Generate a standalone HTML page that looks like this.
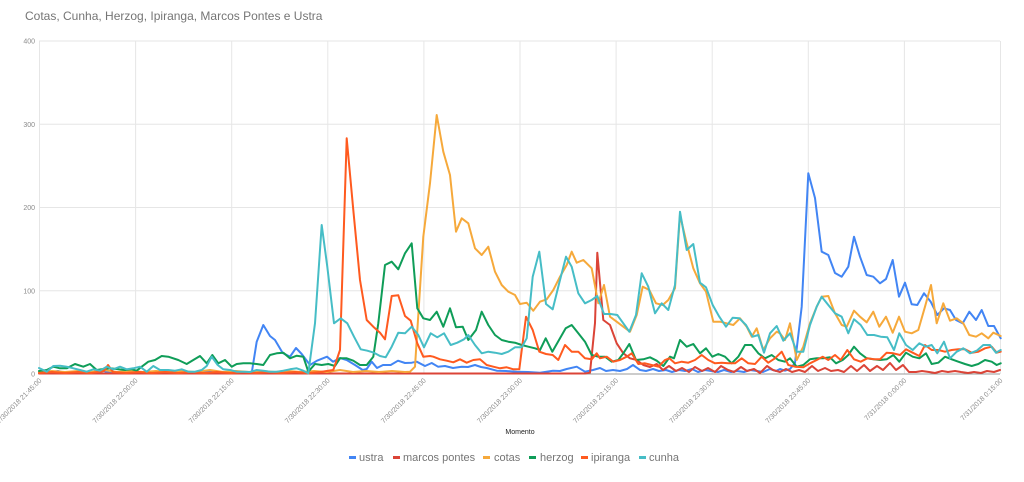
<!DOCTYPE html>
<html><head><meta charset="utf-8"><style>
html,body{margin:0;padding:0;background:#fff;}
svg{display:block;font-family:"Liberation Sans",sans-serif;}
</style></head><body>
<svg width="1024" height="482" viewBox="0 0 1024 482" xmlns="http://www.w3.org/2000/svg">
<rect width="1024" height="482" fill="#fff"/>
<text x="25" y="20" font-size="12" fill="#757575">Cotas, Cunha, Herzog, Ipiranga, Marcos Pontes e Ustra</text>
<g stroke="#e6e6e6" stroke-width="1">
<line x1="39" y1="41" x2="1000" y2="41"/>
<line x1="39" y1="124.3" x2="1000" y2="124.3"/>
<line x1="39" y1="207.5" x2="1000" y2="207.5"/>
<line x1="39" y1="290.8" x2="1000" y2="290.8"/>
<line x1="39.5" y1="41" x2="39.5" y2="374"/>
<line x1="135.6" y1="41" x2="135.6" y2="374"/>
<line x1="231.7" y1="41" x2="231.7" y2="374"/>
<line x1="327.8" y1="41" x2="327.8" y2="374"/>
<line x1="423.9" y1="41" x2="423.9" y2="374"/>
<line x1="520" y1="41" x2="520" y2="374"/>
<line x1="616.1" y1="41" x2="616.1" y2="374"/>
<line x1="712.2" y1="41" x2="712.2" y2="374"/>
<line x1="808.3" y1="41" x2="808.3" y2="374"/>
<line x1="904.4" y1="41" x2="904.4" y2="374"/>
<line x1="1000.5" y1="41" x2="1000.5" y2="374"/>
</g>
<line x1="39" y1="374" x2="1000" y2="374" stroke="#999" stroke-width="1"/>
<g font-size="7" fill="#8a8a8a" text-anchor="end">
<text x="35" y="43.5">400</text>
<text x="35" y="126.8">300</text>
<text x="35" y="210">200</text>
<text x="35" y="293.3">100</text>
<text x="35" y="376.5">0</text>
</g>
<g font-size="7" fill="#8a8a8a" text-anchor="end">
<text transform="translate(42,381) rotate(-45)">7/30/2018 21:45:00</text>
<text transform="translate(138.1,381) rotate(-45)">7/30/2018 22:00:00</text>
<text transform="translate(234.2,381) rotate(-45)">7/30/2018 22:15:00</text>
<text transform="translate(330.3,381) rotate(-45)">7/30/2018 22:30:00</text>
<text transform="translate(426.4,381) rotate(-45)">7/30/2018 22:45:00</text>
<text transform="translate(522.5,381) rotate(-45)">7/30/2018 23:00:00</text>
<text transform="translate(618.6,381) rotate(-45)">7/30/2018 23:15:00</text>
<text transform="translate(714.7,381) rotate(-45)">7/30/2018 23:30:00</text>
<text transform="translate(810.8,381) rotate(-45)">7/30/2018 23:45:00</text>
<text transform="translate(906.9,381) rotate(-45)">7/31/2018 0:00:00</text>
<text transform="translate(1003,381) rotate(-45)">7/31/2018 0:15:00</text>
</g>
<text x="520" y="434" font-size="7" fill="#222" text-anchor="middle">Momento</text>
<g fill="none" stroke-width="2" stroke-linejoin="round" stroke-linecap="round">
<polyline stroke="#4285f4" points="39,372 45,373 52,372 58,371 65,373 71,372 78,373 84,372 91,373 97,372 104,371 110,373 116,372 123,373 129,372 136,373 142,372 148,373 155,372 161,373 168,372 174,373 180,372 187,373 193,372 200,373 206,372 213,371 219,373 225,372 232,373 238,372 245,373 251.7,373 256.7,341.7 263.3,325 270,336 275,340 282.7,353 290,356.7 296,348 301.7,354 310,365 317,360.7 327,356.7 333,361.7 340,358 346.7,360 355,365 362.7,370 366.7,369 371.7,361.7 377,368 383,365 390.7,365 398,360.7 405,363 411.7,362.7 416.7,361.7 425,366 431.7,363 438,366.7 445,366 453,368 461.7,366.7 468,367 475,365 481,367 486.7,368 496.7,370.7 506,371 516.7,371.7 528,372 540,372.7 553,370.7 560,371 566.7,369 576.7,366.7 585,371.7 593,370 600,368 606,371 613,370 620,371 627,369 633,365 640,370 646,371 653,369 659,371 666,370 672,372 679,370 685,371 692,369 698,372 705,370 711,371 718,372 724,370 731,372 737,371 744,372 750,370 757,371 763,372 770,369 776,371 780,369 785,370.7 790,369 795,363 801.7,306.7 808.3,173.3 815,198 821.7,251.7 828.3,255 835,273 841.7,276.7 848.3,266.7 854,236.7 860,256.7 866.7,275 873.3,276.7 880,283.3 886,279 892.7,260 899,296.7 905,282.7 911.7,304.3 917.3,305 924,293.3 930.7,301.7 937.3,315 944,308.3 950,310 956,320 962.7,323.3 969.3,311.7 976,320 981.7,310 988.3,326 994,326 1000.7,338.3"/>
<polyline stroke="#db4437" points="39,373.5 585,373.5 590,372.7 595,323 597.3,252.7 603.3,320 610,325 616.7,343.3 623.3,353.3 630,358.3 636.7,360 643.3,365 650,367 656.7,364 663,370 669,366 676,371 682,368 689,372 695,367 702,371 708,368 715,372 721,366 728,370 734,372 741,367 747,371 754,369 760,373 767,366 773,370 780,372 786,369 792,372 799,370 805,372 812,366 818,371 825,368 831,371 838,370 844,372 851,366 857,371 864,365 870,371 877,366 883,370 890,363 896,370 903,365 909,372 916,372 922,371 929,372 935,373 942,371 948,372 955,371 961,372 968,373 974,372 981,373 987,371 994,372 1000,370"/>
<polyline stroke="#f6a93b" points="39,372 52,371 65,372 78,371 91,372 104,370 117,372 130,371 143,372 156,371 169,372 182,371 195,372 210,370 223,372 236,371 249,372 262,371 275,372 288,371 301,372 314,371 327,372 340,370 353,372 366,371 379,372 392,371 405,372 410,371.7 415,366.7 423.3,236.7 430,183.3 436.7,115 443.3,151.7 450,175 456,231.7 461.7,218.3 468.3,223.3 475,248.3 481.7,255 488.3,246.7 495,271.7 501.7,285 508.3,291.7 515,295 520,304 526.7,302.7 533.3,310.7 540,301.7 546.7,299.3 553.3,290 560,276.7 566.7,265 571.7,251.7 576.7,262.7 583.3,260 591.7,268.3 598.3,303.3 604,285 610,316.7 616.7,321.7 623.3,326.7 630,331.7 636.7,315 642.7,286.7 649.3,290 656,303.3 662.7,305 668.3,300 675,288.3 680,215 686.7,243.3 693.3,268.3 700,283.3 706,291.7 713.3,321.7 720,321.7 726.7,323.3 733.3,325 740,318.3 746.7,326.7 751.7,336.7 756.7,328.3 763.3,350 770,338.3 776.7,331.7 780,333.3 785,340 790,323.3 796.7,360 803.3,346.7 810,323.3 816.7,306.7 821.7,296.7 828.3,296 835,313.3 841.7,325 846.7,326.7 854,310.7 860,316.7 866.7,322.3 873.3,311.7 879.3,326.7 886,316.7 892.7,332.7 899,316.7 905,331.7 911.7,333.3 918.3,330 925,306.7 931,285 936.7,323.3 943.3,303.3 950,320.7 956.7,318.3 963.3,323.3 969.3,335 976,336.7 981.7,333.3 988.3,338.3 993.3,332.7 1000.7,336"/>
<polyline stroke="#0f9d58" points="39,371 46.7,370 53.3,366.7 60,368.3 66.7,368.3 75,364 83.3,366.7 90,364 96.7,370 103.3,369 110,368.3 118.3,369.3 125,370 131.7,369.3 136.7,370.7 141.7,366.7 148.3,361.7 155,360 161.7,356 168.3,356.7 178.3,360 186.7,364 193.3,360 200,356 206.7,363.3 212.3,355 218.3,363.3 225,360 231.7,366.7 236.7,364 243.3,363.3 250,363.3 256.7,364 263.3,365 270,355 276.7,353.3 283.3,352.7 290,358.3 296.7,355.7 303.3,356.7 308.3,371.7 315,364 321.7,365 328.3,364 335,366 340,358.3 346.7,358.3 353.3,360.7 360,365 366.7,365 373.3,356.7 378.3,323.3 385,265 391.7,261.7 398.3,269.3 405,253.3 411.7,243.3 417.3,308.3 423.3,318.3 430,320 436.7,311.7 443.3,326.7 450,308.3 456,327.3 462.7,326.7 468.3,340 476,330 481.7,311.7 488.3,325 495,335 501.7,340 508.3,341.7 515,342.7 521.7,345 528.3,346.7 535,348.3 540,350 545.7,338.3 552.3,351.7 559,340 565.7,328.3 571.7,325 578.3,333.3 585,341.7 591.7,355 598.3,356.7 605,356.7 611.7,361.7 618.3,360 623.3,353.3 629.3,344 636,360 643.3,359.3 650,357.3 656.7,360.7 663.3,366 670,356.7 674,358.3 680,340 686.7,346.7 693.3,344 700,353.3 706,348.3 712.3,356.7 718.3,354 725,356.7 731.7,363.3 738.3,356.7 745,345 751.7,345 758.3,353.3 765,358.3 771.7,355 778.3,360 785,361.7 790,358.3 796.7,366.7 803.3,365 810,359.3 816.7,358.3 823.3,358.3 830,357.3 836,363.3 842.7,360 848.3,355 854,346.7 860,353.3 866.7,358.3 873.3,359.3 880,360 886.7,359.3 893.3,355 899.3,361.7 906,352.7 912.7,356.7 919.3,358.3 926,353.3 931.7,364 938.3,362.7 945,356.7 951.7,359.3 958.3,361.7 965,364 971.7,366 978.3,364 985,360 991.7,361.7 996.7,365 1000.7,363.3"/>
<polyline stroke="#ff5a1f" points="39,373 52,372 65,373 78,372 91,373 104,371 108,365 113,372 126,373 139,372 152,373 165,372 178,373 191,372 204,373 217,372 230,373 243,372 256,373 269,372 282,373 295,372 308,373 320,372 333.3,370 340,350 346.7,138.3 353.3,210 360,280 366.7,320 373.3,326.7 380,332.7 385,339.3 391.7,296 398.3,295.3 405,316 410.7,320.7 417.3,343.3 423.3,356.7 430,356 433.3,356.7 440,359.3 446.7,360.7 453.3,362.3 460,359.3 466.7,362.7 473.3,360 480,359.3 486.7,365 493.3,366.7 500,368.3 506.7,367.3 513.3,369.3 519.3,369.3 526,316.7 532.7,330 539.3,351.7 546,354 552.7,355 558.3,360 565,345 571.7,351.7 578.3,351.7 585,358.3 591.7,359.3 596.7,353.3 600,358.3 606.7,356.7 613.3,361.7 620,360 626.7,356.7 631.7,353.3 638.3,364 645,363.3 651.7,365 658.3,366.7 665,360 669.3,358.3 675,363.3 681.7,361.7 688.3,362.7 695,360 701.7,355 708.3,360 715,363.3 721.7,362.7 728.3,363.3 735,363.3 741.7,358.3 748.3,363.3 755,364 761.7,356.7 768.3,362.7 775,358.3 781.7,351.7 788.3,365 795,366.7 803.3,367.3 810,363.3 816.7,360 822.7,356.7 828.3,360 835,355 840.7,360 847.3,350 854,359.3 860.7,361.7 867.3,358.3 874,359.3 880,359.3 886.7,352.7 893.3,353.3 900,355 906,349.3 912.7,352.7 919.3,356 925,345 931.7,350 938.3,350 945,351.7 951.7,350 958.3,349.3 965,349.3 971.7,352.7 978.3,351.7 985,348.3 991.7,346.7 996.7,352.7 1000.7,351.7"/>
<polyline stroke="#46bdc6" points="39,368 46.7,371.7 53.3,366 60,365.7 66.7,366.7 73.3,368.3 80,370 86.7,371.7 93.3,369.3 100,370.7 106.7,366.7 113.3,369.3 120,366.7 126.7,369.3 133.3,368.3 140,366.7 146.7,371.7 153.3,366 160,370 168.3,370 175,370.7 181.7,369.3 188.3,371.7 195,371.7 201.7,370 206.7,366 211.7,356.7 217.7,365 223.3,369.3 230,370 236.7,371.7 243.3,371.7 250,372 256.7,370 263.3,370.7 270,371.7 276.7,371.7 283.3,370.7 290,369.3 296.7,368.3 303.3,370.7 308.3,373.3 315,323.3 321.7,225 327.3,266.7 334,323.3 340.7,318.3 347.3,323.3 354,336.7 360.7,349.3 367.3,350.7 374,352.7 380,356 385.7,357.3 391.7,346.7 398.3,332.7 405,333.3 411.7,326.7 418.3,335 424,347.3 430.7,333.3 437.3,337.3 444,333.3 450.7,345 457.3,342.7 464,339.3 468.3,335 475,345 481.7,353.3 488.3,351.7 495,352.7 501.7,354 508.3,351.7 515,347.3 521.7,347.3 526.7,338.3 532.7,276.7 539.3,251.7 546,304 552.7,309.3 559.3,282.7 566,256.7 571.7,266.7 578.3,293.3 585,303.3 591.7,300 597.3,296 604,314 610.7,314 617.3,315 623.3,323.3 629.3,331.7 636,315 641.7,273.3 648.3,286.7 655,313.3 661.7,303.3 668.3,310 675,285 680,211.7 686.7,250 693.3,244 700,282.7 706,287.3 712.7,305 719.3,316.7 726,326.7 732.7,317.7 739.3,318.3 746,325 752.7,336.7 758.3,335 764,352.7 770,333.3 776.7,326 783.3,340.7 790,333.3 796.7,351.7 803.3,351.7 810,325 816.7,306.7 821.7,296.7 828.3,305 835,313.3 841.7,316.7 848.3,333.3 854,319.3 860.7,325 867.3,335 874,335 880.7,336.7 887.3,337.3 894,350 899.3,333.3 906,345 912.7,350 919.3,343.3 926,346.7 931.7,345 937.3,353.3 944,341.7 950,358.3 956.7,351.7 963.3,348.3 970,353.3 976.7,350.7 983.3,345 990,345 996,352.7 1000.7,350"/>
</g>
<g font-size="11" fill="#757575">
<rect x="349" y="456" width="7" height="3" fill="#4285f4"/><text x="359" y="461">ustra</text>
<rect x="393" y="456" width="7" height="3" fill="#db4437"/><text x="403" y="461">marcos pontes</text>
<rect x="483" y="456" width="7" height="3" fill="#f6a93b"/><text x="494" y="461">cotas</text>
<rect x="529" y="456" width="7" height="3" fill="#0f9d58"/><text x="540" y="461">herzog</text>
<rect x="581" y="456" width="7" height="3" fill="#ff5a1f"/><text x="591" y="461">ipiranga</text>
<rect x="639" y="456" width="7" height="3" fill="#46bdc6"/><text x="649" y="461">cunha</text>
</g>
</svg>
</body></html>
